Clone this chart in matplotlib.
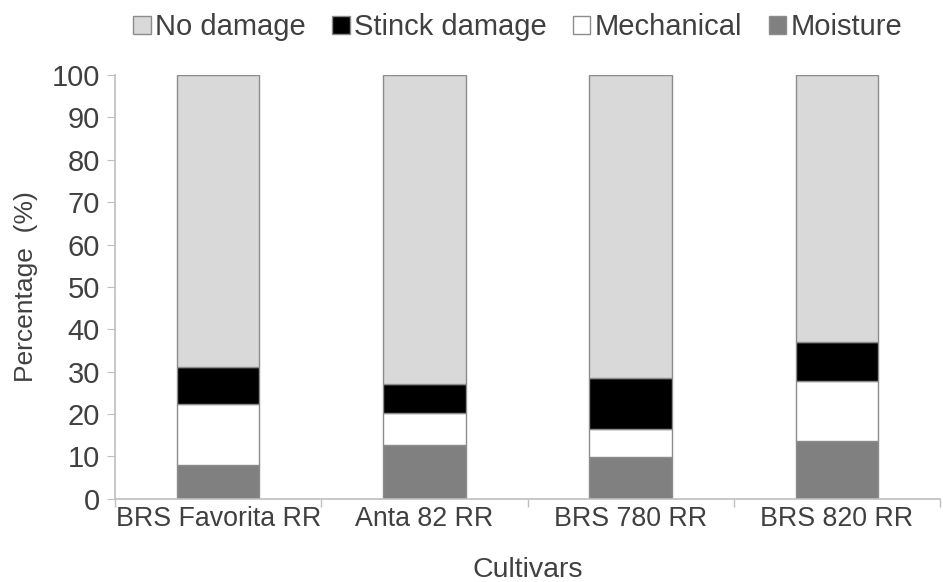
import matplotlib
matplotlib.use("Agg")
import matplotlib.pyplot as plt
import numpy as np

plt.rcParams['font.family'] = ['Liberation Sans', 'DejaVu Sans']

cultivars = ['BRS Favorita RR', 'Anta 82 RR', 'BRS 780 RR', 'BRS 820 RR']
moisture = [8.0, 12.7, 9.9, 13.7]
mechanical = [14.4, 7.6, 6.6, 14.1]
stinck = [8.7, 6.8, 12.0, 9.2]
no_damage = [100 - a - b - c for a, b, c in zip(moisture, mechanical, stinck)]

fig = plt.figure(figsize=(9.43, 5.82), dpi=100)
ax = fig.add_axes([0.122, 0.143, 0.875, 0.728])

x = np.arange(len(cultivars))
w = 0.4
edge = '#8c8c8c'
bottom = np.zeros(len(cultivars))
series = [('Moisture', moisture, '#808080'),
          ('Mechanical', mechanical, 'white'),
          ('Stinck damage', stinck, 'black'),
          ('No damage', no_damage, '#d9d9d9')]
handles = {}
for name, vals, col in series:
    h = ax.bar(x, vals, w, bottom=bottom, color=col, edgecolor=edge, linewidth=1, label=name)
    handles[name] = h
    bottom += np.array(vals)

ax.set_xlim(-0.5, len(cultivars) - 0.5)
ax.set_ylim(0, 100)
ax.set_yticks(range(0, 101, 10))
ax.set_xticks(x)
ax.set_xticklabels(cultivars)
ax.set_xticks(np.arange(-0.5, len(cultivars)), minor=True)
ax.tick_params(axis='x', which='major', length=0, pad=5, labelsize=19.3, colors='#404040')
ax.tick_params(axis='x', which='minor', length=6, color='#bfbfbf', width=1)
ax.tick_params(axis='y', length=6, color='#bfbfbf', labelsize=21, labelcolor='#404040', pad=5)
for s in ['top', 'right']:
    ax.spines[s].set_visible(False)
for s in ['left', 'bottom']:
    ax.spines[s].set_color('#bfbfbf')
    ax.spines[s].set_linewidth(1.2)

ax.set_ylabel('Percentage  (%)', fontsize=19, color='#404040', labelpad=10)
ax.set_xlabel('Cultivars', fontsize=20.5, color='#404040', labelpad=18)

order = ['No damage', 'Stinck damage', 'Mechanical', 'Moisture']
fig.legend([handles[n] for n in order], order, loc='center', bbox_to_anchor=(0.549, 0.953),
           ncol=4, frameon=False, fontsize=21, handlelength=0.6, handleheight=0.6,
           handletextpad=0.15, columnspacing=0.9, labelcolor='#404040')

fig.savefig('out.png', dpi=100)
